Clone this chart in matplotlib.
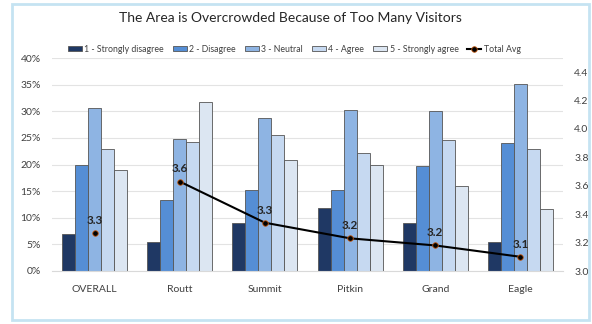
import numpy as np
import matplotlib.pyplot as plt
from matplotlib.patches import Rectangle

# Survey responses by county (share of respondents)
regions = ['OVERALL', 'Routt', 'Summit', 'Pitkin', 'Grand', 'Eagle']
responses = ['1 - Strongly disagree', '2 - Disagree', '3 - Neutral', '4 - Agree', '5 - Strongly agree']
strongly_disagree = [7.0, 5.4, 9.0, 11.8, 9.0, 5.5]
disagree = [20.0, 13.3, 15.2, 15.2, 19.8, 24.1]
neutral = [30.6, 24.7, 28.8, 30.2, 30.1, 35.2]
agree = [23.0, 24.3, 25.5, 22.1, 24.6, 23.0]
strongly_agree = [18.9, 31.8, 20.8, 20.0, 15.9, 11.6]
total_avg = [3.27, 3.63, 3.34, 3.23, 3.18, 3.10]

colors = ['#1F3864', '#558ED5', '#8EB4E3', '#C6D9F1', '#DCE6F2']

plt.rcParams['font.family'] = ['Lato', 'DejaVu Sans']

fig = plt.figure(figsize=(5.92, 3.24), dpi=100)
# light blue frame round the chart
fig.patches.append(Rectangle((12/592, 1-320/324), 577/592, 316/324, transform=fig.transFigure,
                             fill=False, edgecolor='#C5E3F2', linewidth=2))

ax = fig.add_axes([52/592, 1-271/324, 511/592, 213/324])
ax2 = ax.twinx()

x = np.arange(len(regions))
width = 0.153
series = [strongly_disagree, disagree, neutral, agree, strongly_agree]
for i, vals in enumerate(series):
    ax.bar(x + (i - 2) * width, vals, width, color=colors[i], edgecolor='#555555',
           linewidth=0.6, label=responses[i], zorder=2)

ax.set_ylim(0, 40)
ax.set_yticks(np.arange(0, 41, 5))
ax.set_yticklabels([f'{v}%' for v in range(0, 41, 5)])
ax.set_xlim(-0.5, len(regions) - 0.5)
ax.set_xticks(x)
ax.set_xticklabels(regions)
ax.grid(axis='y', color='#E3E3E3', linewidth=0.8, zorder=0)
ax.set_axisbelow(True)
for s in ['top', 'right', 'left']:
    ax.spines[s].set_visible(False)
    ax2.spines[s].set_visible(False)
ax.spines['bottom'].set_color('#D9D9D9')
ax2.spines['bottom'].set_visible(False)
ax.tick_params(axis='both', length=0, labelsize=7.5, colors='#404040')
ax.tick_params(axis='x', pad=10)
ax.tick_params(axis='y', pad=8)

# average score on the secondary axis; OVERALL point stands alone, counties are joined
marker_style = dict(marker='o', markersize=4, markerfacecolor='black',
                    markeredgecolor='#C55A11', markeredgewidth=0.6)
ax2.plot(x[1:], total_avg[1:], color='black', linewidth=1.5, label='Total Avg',
         zorder=5, **marker_style)
ax2.plot(x[:1], total_avg[:1], linestyle='none', zorder=5, **marker_style)
for xi, v in zip(x, total_avg):
    ax2.text(xi, v + 0.05, f'{v:.1f}', ha='center', va='bottom', fontsize=8.5,
             fontweight='bold', color='#262626')
ax2.set_ylim(3.0, 4.5)
ax2.set_yticks(np.arange(3.0, 4.41, 0.2))
ax2.set_yticklabels([f'{v:.1f}' for v in np.arange(3.0, 4.41, 0.2)])
ax2.tick_params(axis='y', length=0, labelsize=7.5, colors='#404040', pad=8)

h1, l1 = ax.get_legend_handles_labels()
h2, l2 = ax2.get_legend_handles_labels()
fig.legend(h1 + h2, l1 + l2, loc='center', bbox_to_anchor=(0.497, 1-49/324), ncol=6,
           frameon=False, fontsize=6.3, handlelength=1.6, handleheight=0.6,
           handletextpad=0.3, columnspacing=1.0, labelcolor='#404040')

fig.text(0.49, 1-18/324, 'The Area is Overcrowded Because of Too Many Visitors',
         ha='center', va='center', fontsize=10, color='#262626')

fig.savefig('out.png', dpi=100)
